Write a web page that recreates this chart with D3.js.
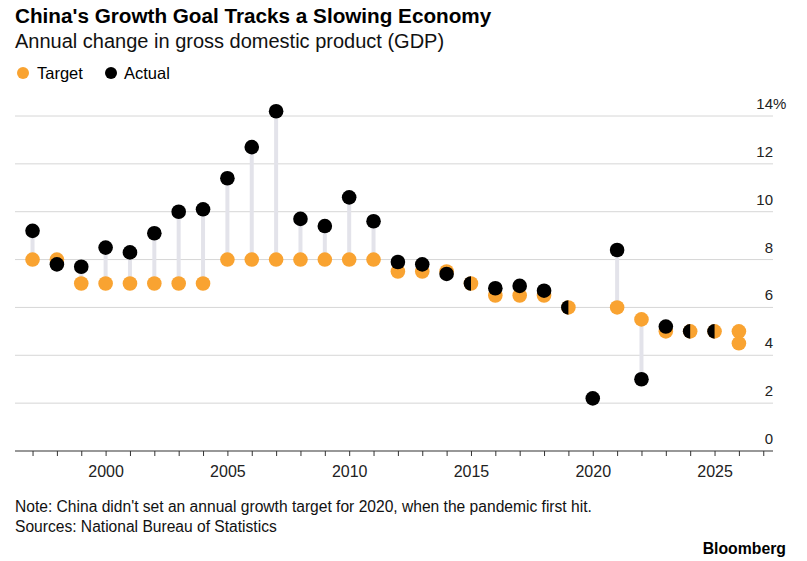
<!DOCTYPE html>
<html>
<head>
<meta charset="utf-8">
<script src="https://cdnjs.cloudflare.com/ajax/libs/d3/7.8.5/d3.min.js"></script>
<style>
  body { margin: 0; background: #fff; }
  text { font-family: "Liberation Sans", Arial, sans-serif; }
</style>
</head>
<body>
<script>
// data
var years  = [1997, 1998, 1999, 2000, 2001, 2002, 2003, 2004, 2005, 2006, 2007, 2008, 2009, 2010, 2011,
              2012, 2013, 2014, 2015, 2016, 2017, 2018, 2019, 2020, 2021, 2022, 2023, 2024, 2025, 2026];
var actual = [9.2, 7.8, 7.7, 8.5, 8.3, 9.1, 10.0, 10.1, 11.4, 12.7, 14.2, 9.7, 9.4, 10.6, 9.6,
              7.9, 7.8, 7.4, 7.0, 6.8, 6.9, 6.7, 6.0, 2.2, 8.4, 3.0, 5.2, 5.0, 5.0, null];
var target = [8, 8, 7, 7, 7, 7, 7, 7, 8, 8, 8, 8, 8, 8, 8,
              7.5, 7.5, 7.5, 7.0, 6.5, 6.5, 6.5, 6.0, null, 6.0, 5.5, 5.0, 5.0, 5.0, 5.0];
// 2026 target is a range: lower end
var targetLow = [null, null, null, null, null, null, null, null, null, null, null, null, null, null, null,
                 null, null, null, null, null, null, null, null, null, null, null, null, null, null, 4.5];
var yTicks = [0, 2, 4, 6, 8, 10, 12, 14];
var xTickLabels = [2000, 2005, 2010, 2015, 2020, 2025];

var width = 807, height = 561;
var orange = "#f9a331", black = "#000";

var svg = d3.select("body").append("svg")
    .attr("width", width)
    .attr("height", height);

var x = d3.scaleLinear().domain([1996.28, 2027.4]).range([15, 773]);
var y = d3.scaleLinear().domain([0, 14]).range([451, 116]);

// titles
svg.append("text").attr("x", 15).attr("y", 23)
    .style("font-size", "20.7px").style("font-weight", "bold")
    .text("China's Growth Goal Tracks a Slowing Economy");
svg.append("text").attr("x", 15).attr("y", 48)
    .style("font-size", "20px").attr("fill", "#111")
    .text("Annual change in gross domestic product (GDP)");

// legend
var legend = svg.append("g");
legend.append("circle").attr("cx", 23).attr("cy", 73).attr("r", 6).attr("fill", orange);
legend.append("text").attr("x", 37).attr("y", 79).style("font-size", "16.5px").text("Target");
legend.append("circle").attr("cx", 111).attr("cy", 73).attr("r", 6).attr("fill", black);
legend.append("text").attr("x", 124).attr("y", 79).style("font-size", "16.5px").text("Actual");

// gridlines + y labels
var grid = svg.append("g");
grid.selectAll("line").data(yTicks.filter(function(d) { return d > 0; })).enter().append("line")
    .attr("x1", 15).attr("x2", 773)
    .attr("y1", function(d) { return y(d); }).attr("y2", function(d) { return y(d); })
    .attr("stroke", "#d6d6d6").attr("stroke-width", 1);
grid.selectAll("text").data(yTicks).enter().append("text")
    .attr("x", 773).attr("y", function(d) { return y(d) - 7; })
    .attr("text-anchor", "end")
    .style("font-size", "15px").attr("fill", "#222")
    .text(function(d) { return d; });
grid.append("text").attr("x", 773).attr("y", y(14) - 7)
    .style("font-size", "15px").attr("fill", "#222").text("%");

// x axis
var xAxis = d3.axisBottom(x)
    .tickValues(d3.range(1997, 2028))
    .tickSize(5)
    .tickFormat(function(d) { return xTickLabels.indexOf(d) >= 0 ? d : ""; });
var gx = svg.append("g").attr("transform", "translate(0," + y(0) + ")").call(xAxis);
gx.select(".domain").attr("d", "M15,0H773").attr("stroke", "#333").attr("stroke-width", 1.2);
gx.selectAll(".tick line").attr("stroke", "#333");
gx.selectAll(".tick text").attr("dy", "1.15em")
    .style("font-size", "16px").style("font-family", "Liberation Sans, Arial, sans-serif").attr("fill", "#222");

// rows
var rows = years.map(function(yr, i) {
    return { year: yr, actual: actual[i], target: target[i], targetLow: targetLow[i] };
});

// stems
svg.append("g").selectAll("line")
    .data(rows.filter(function(d) { return d.actual != null && d.target != null && d.actual !== d.target; }))
    .enter().append("line")
    .attr("x1", function(d) { return x(d.year); }).attr("x2", function(d) { return x(d.year); })
    .attr("y1", function(d) { return y(d.target); }).attr("y2", function(d) { return y(d.actual); })
    .attr("stroke", "#e3e3ea").attr("stroke-width", 4);

var r = 7.3;

// target dots
var tg = svg.append("g");
tg.selectAll("circle.t").data(rows.filter(function(d) { return d.target != null; })).enter().append("circle")
    .attr("cx", function(d) { return x(d.year); }).attr("cy", function(d) { return y(d.target); })
    .attr("r", r).attr("fill", orange);
tg.selectAll("circle.tl").data(rows.filter(function(d) { return d.targetLow != null; })).enter().append("circle")
    .attr("cx", function(d) { return x(d.year); }).attr("cy", function(d) { return y(d.targetLow); })
    .attr("r", r).attr("fill", orange);

// actual dots: half circle where actual equals target
var halfArc = d3.arc().innerRadius(0).outerRadius(r).startAngle(Math.PI).endAngle(2 * Math.PI);
var ag = svg.append("g");
ag.selectAll("circle").data(rows.filter(function(d) { return d.actual != null && d.actual !== d.target; }))
    .enter().append("circle")
    .attr("cx", function(d) { return x(d.year); }).attr("cy", function(d) { return y(d.actual); })
    .attr("r", r).attr("fill", black);
ag.selectAll("path").data(rows.filter(function(d) { return d.actual != null && d.actual === d.target; }))
    .enter().append("path")
    .attr("transform", function(d) { return "translate(" + x(d.year) + "," + y(d.actual) + ")"; })
    .attr("d", halfArc()).attr("fill", black);

// footer
svg.append("text").attr("x", 15).attr("y", 512).style("font-size", "15.6px").attr("fill", "#111")
    .text("Note: China didn't set an annual growth target for 2020, when the pandemic first hit.");
svg.append("text").attr("x", 15).attr("y", 532).style("font-size", "15.6px").attr("fill", "#111")
    .text("Sources: National Bureau of Statistics");
svg.append("text").attr("x", 786).attr("y", 554).attr("text-anchor", "end")
    .style("font-size", "15.8px").style("font-weight", "bold")
    .text("Bloomberg");
</script>
</body>
</html>
